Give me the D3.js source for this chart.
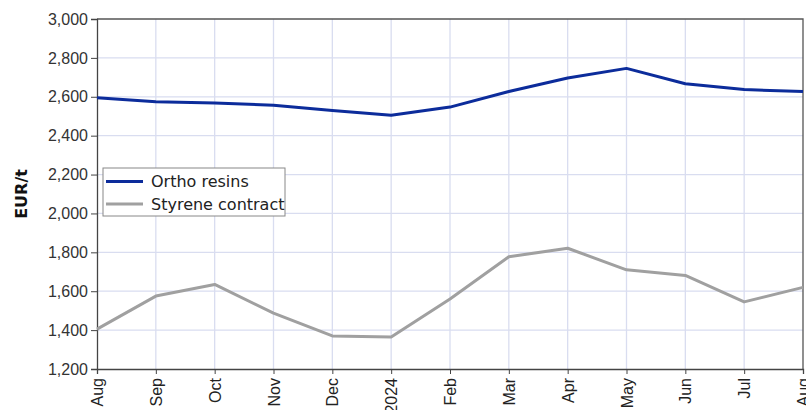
<!DOCTYPE html>
<html>
<head>
<meta charset="utf-8">
<script src="https://cdn.jsdelivr.net/npm/d3@7"></script>
<style>
  body { margin: 0; background: #fff; }
  svg { display: block; font-family: "DejaVu Sans", Verdana, sans-serif; }
</style>
</head>
<body>
<svg id="chart" width="806" height="410"></svg>
<script>
// months along the x axis
var months = ["Aug", "Sep", "Oct", "Nov", "Dec", "2024", "Feb", "Mar", "Apr", "May", "Jun", "Jul", "Aug"];
var orthoResins = [2595, 2575, 2568, 2557, 2530, 2505, 2547, 2627, 2697, 2746, 2667, 2637, 2627];
var styreneContract = [1405, 1575, 1635, 1487, 1370, 1365, 1560, 1777, 1821, 1710, 1681, 1545, 1620];
var yTicks = [1200, 1400, 1600, 1800, 2000, 2200, 2400, 2600, 2800, 3000];

var series = [
  { name: "Ortho resins", values: orthoResins, color: "#0c2c9b" },
  { name: "Styrene contract", values: styreneContract, color: "#a0a0a0" }
];

var margin = { top: 19, right: 3, bottom: 41, left: 97 };
var svg = d3.select("#chart");
var width = 806 - margin.left - margin.right,
    height = 410 - margin.top - margin.bottom;

var g = svg.append("g").attr("transform", "translate(" + margin.left + "," + margin.top + ")");

// index based x so the two "Aug" labels stay apart
var x = d3.scaleLinear().domain([0, months.length - 1]).range([0, width]);
var y = d3.scaleLinear().domain([1200, 3000]).range([height, 0]);

// grid
g.append("g").selectAll("line").data(yTicks.slice(1, -1)).enter().append("line")
  .attr("x1", 0).attr("x2", width)
  .attr("y1", d => y(d)).attr("y2", d => y(d))
  .style("stroke", "#d9ddf0").style("stroke-width", 1.3);
g.append("g").selectAll("line").data(d3.range(1, months.length - 1)).enter().append("line")
  .attr("y1", 0).attr("y2", height)
  .attr("x1", d => x(d)).attr("x2", d => x(d))
  .style("stroke", "#d9ddf0").style("stroke-width", 1.3);

// top / right border
g.append("path")
  .attr("d", "M0,0H" + width + "V" + height)
  .style("fill", "none").style("stroke", "#555").style("stroke-width", 1.3);

// y axis
var yAxis = g.append("g")
  .call(d3.axisLeft(y).tickValues(yTicks).tickSize(6).tickPadding(3).tickFormat(d3.format(",")));
yAxis.select(".domain").style("stroke", "#444").style("stroke-width", 1.3);
yAxis.selectAll(".tick line").style("stroke", "#444");
yAxis.selectAll("text").style("font-size", "16px").style("fill", "#333").attr("font-family", null);

// x axis
var xAxis = g.append("g").attr("transform", "translate(0," + height + ")")
  .call(d3.axisBottom(x).tickValues(d3.range(months.length)).tickSize(5).tickFormat(i => months[i]));
xAxis.select(".domain").style("stroke", "#444").style("stroke-width", 1.3);
xAxis.selectAll(".tick line").style("stroke", "#444");
xAxis.selectAll("text")
  .style("font-size", "16px").style("fill", "#222").attr("font-family", null)
  .attr("transform", "rotate(-90)")
  .attr("text-anchor", "end")
  .attr("x", -9).attr("y", 0).attr("dy", "0.35em");

// y label
svg.append("text")
  .attr("transform", "translate(21," + (margin.top + y(2100)) + ") rotate(-90)")
  .attr("text-anchor", "middle").attr("dy", "0.35em")
  .style("font-weight", "bold").style("font-size", "16px").style("fill", "#111")
  .text("EUR/t");

// lines
var line = d3.line().x((d, i) => x(i)).y(d => y(d));
g.selectAll(".series").data(series).enter().append("path")
  .attr("class", "series")
  .attr("d", d => line(d.values))
  .style("fill", "none").style("stroke", d => d.color)
  .style("stroke-width", 3).style("stroke-linejoin", "round");

// legend
var legend = svg.append("g").attr("transform", "translate(103,168)");
legend.append("rect")
  .attr("width", 182).attr("height", 48)
  .style("fill", "#fff").style("stroke", "#888").style("stroke-width", 1);
var items = legend.selectAll(".item").data(series).enter().append("g")
  .attr("transform", (d, i) => "translate(0," + (13.5 + i * 22.5) + ")");
items.append("line")
  .attr("x1", 3).attr("x2", 40)
  .style("stroke", d => d.color).style("stroke-width", 3);
items.append("text")
  .attr("x", 48).attr("dy", "0.35em")
  .style("font-size", "16px").style("fill", "#222")
  .text(d => d.name);
</script>
</body>
</html>
